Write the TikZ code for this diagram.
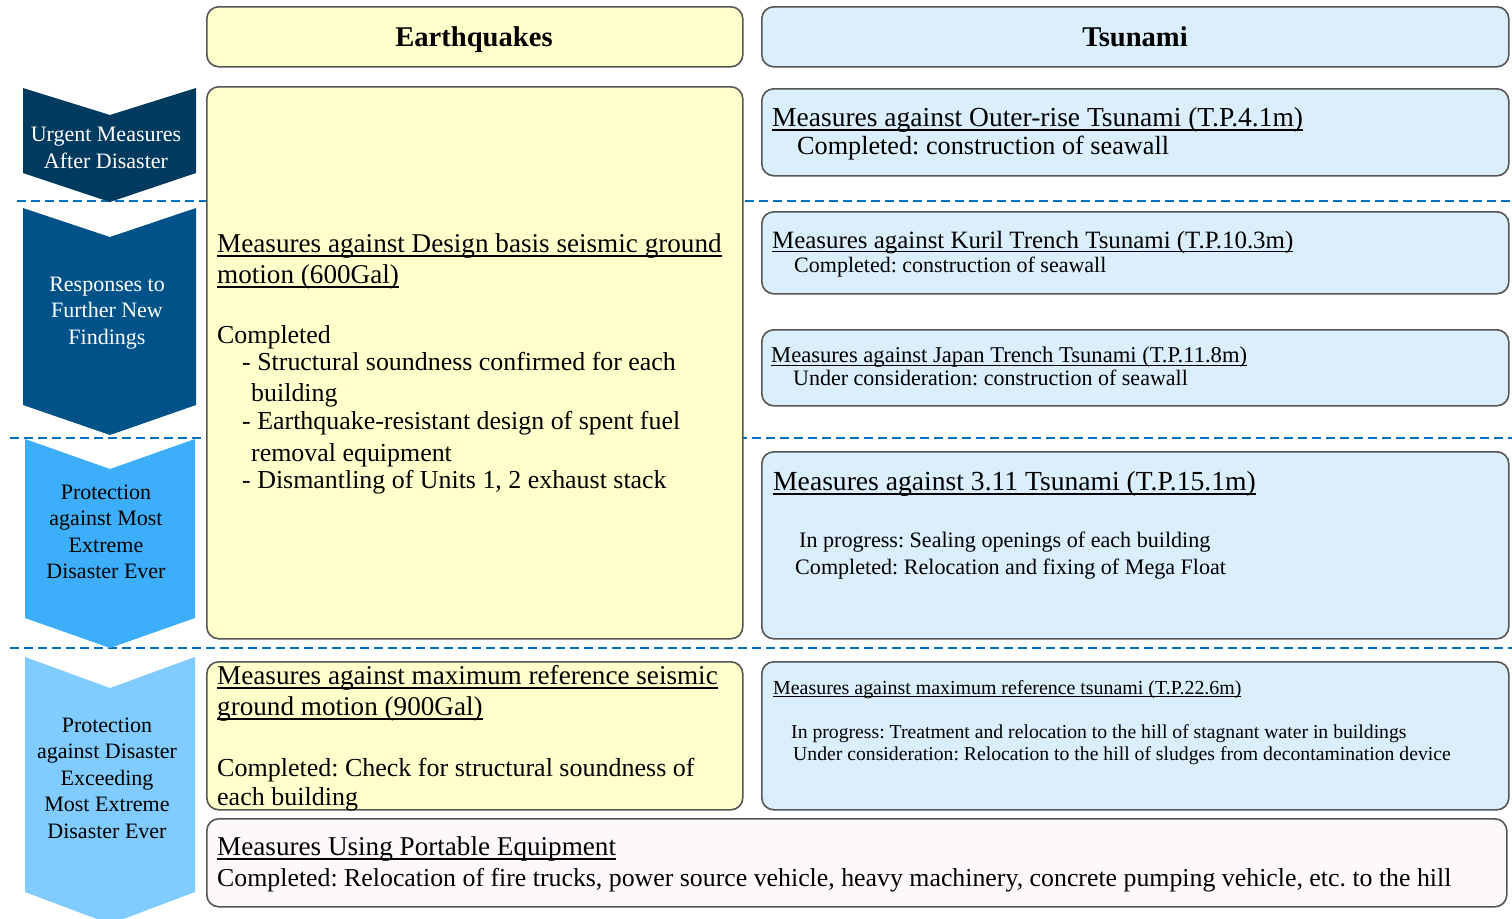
\documentclass[tikz,border=0pt]{standalone}
\usepackage{fontspec}
\setmainfont{Liberation Serif}
\definecolor{arrA}{RGB}{0,58,94}
\definecolor{arrB}{RGB}{0,82,137}
\definecolor{arrC}{RGB}{61,174,249}
\definecolor{arrD}{RGB}{128,203,255}
\definecolor{eqfill}{RGB}{255,255,204}
\definecolor{tsfill}{RGB}{218,238,252}
\definecolor{pofill}{RGB}{252,249,248}
\definecolor{edge}{RGB}{85,85,85}
\definecolor{dashc}{RGB}{0,112,192}
\newcommand\uln[1]{\setbox0=\hbox{#1}\leavevmode\rlap{\rule[-0.17em]{\wd0}{0.055em}}\box0}
\newcommand\fsz[1]{\fontsize{#1}{#1}\selectfont}
\tikzset{
  box/.style={draw=edge, line width=1.6pt, rounded corners=12pt, anchor=north west, inner sep=0pt},
  eqbox/.style={box, fill=eqfill},
  tsbox/.style={box, fill=tsfill},
  pobox/.style={box, fill=pofill},
  txt/.style={anchor=base west, inner sep=0pt},
  hdr/.style={inner sep=0pt, anchor=base, font=\fsz{28.6}\bfseries},
  arrtxt/.style={inner sep=0pt, align=center, font=\fontsize{22}{26.5}\selectfont},
  sep/.style={draw=dashc, line width=2.6pt, dash pattern=on 9pt off 5pt},
}
\begin{document}
\frenchspacing
\begin{tikzpicture}[x=1pt,y=-1pt]
\useasboundingbox (0,0) rectangle (1512,918);
% separators
\draw[sep] (17,201) -- (1512,201);
\draw[sep] (10,438) -- (1512,438);
\draw[sep] (10,648) -- (1512,648);
% left chevrons
\fill[arrA] (23,88) -- (110,115) -- (196,88) -- (196,173) -- (110,202) -- (23,173) -- cycle;
\node[arrtxt, text=white] (a1) at (106,148) {Urgent Measures\\After Disaster};
\fill[arrB] (23,208) -- (110,237) -- (196,208) -- (196,405) -- (110,435) -- (23,405) -- cycle;
\node[arrtxt, text=white] (a2) at (107,313) {Responses to\\Further New\\Findings};
\fill[arrC] (25,439) -- (110,469) -- (195,439) -- (195,618) -- (110,648) -- (25,618) -- cycle;
\node[arrtxt] (a3) at (106,532) {Protection\\against Most\\Extreme\\Disaster Ever};
\fill[arrD] (25,657) -- (110,688) -- (195,657) -- (195,892) -- (110,924) -- (25,892) -- cycle;
\node[arrtxt] (a4) at (107,778) {Protection\\against Disaster\\Exceeding\\Most Extreme\\Disaster Ever};
% headers
\node[eqbox, minimum width=536pt, minimum height=60pt] (heq) at (206,6) {};
\node[hdr] (heqt) at (474,46) {Earthquakes};
\node[tsbox, minimum width=747pt, minimum height=60pt] (hts) at (761,6) {};
\node[hdr] (htst) at (1135,46) {Tsunami};
% earthquake boxes
\node[eqbox, minimum width=536pt, minimum height=552pt] (eq1) at (206,86) {};
\node[eqbox, minimum width=536pt, minimum height=148pt] (eq2) at (206,661) {};
% tsunami boxes
\node[tsbox, minimum width=747pt, minimum height=87pt] (t1) at (761,88) {};
\node[tsbox, minimum width=747pt, minimum height=82pt] (t2) at (761,211) {};
\node[tsbox, minimum width=747pt, minimum height=76pt] (t3) at (761,329) {};
\node[tsbox, minimum width=747pt, minimum height=187pt] (t4) at (761,451) {};
\node[tsbox, minimum width=747pt, minimum height=148pt] (t5) at (761,661) {};
% portable
\node[pobox, minimum width=1300pt, minimum height=88pt] (po) at (206,818) {};
% texts
\begin{scope}[every node/.style={txt, font=\fsz{27.15}}]
\node (e1) at (217,252) {\uln{Measures against Design basis seismic ground}};
\node (e2) at (217,283) {\uln{motion (600Gal)}};
\node[font=\fsz{25.9}] (e3) at (217,343) {Completed};
\node[font=\fsz{25.9}] (e4) at (242,370) {- Structural soundness confirmed for each};
\node[font=\fsz{25.9}] (e5) at (251,401) {building};
\node[font=\fsz{25.9}] (e6) at (242,429) {- Earthquake-resistant design of spent fuel};
\node[font=\fsz{25.9}] (e7) at (251,461) {removal equipment};
\node[font=\fsz{25.9}] (e8) at (242,488) {- Dismantling of Units 1, 2 exhaust stack};
\node (f1) at (217,684) {\uln{Measures against maximum reference seismic}};
\node (f2) at (217,715) {\uln{ground motion (900Gal)}};
\node[font=\fsz{26}] (f3) at (217,776) {Completed: Check for structural soundness of};
\node[font=\fsz{26}] (f4) at (217,805) {each building};
\node (p1) at (217,855) {\uln{Measures Using Portable Equipment}};
\node[font=\fsz{25.83}] (p2) at (217,886) {Completed: Relocation of fire trucks, power source vehicle, heavy machinery, concrete pumping vehicle, etc. to the hill};
\node[font=\fsz{27.5}] (t1a) at (772,126) {\uln{Measures against Outer-rise Tsunami (T.P.4.1m)}};
\node[font=\fsz{26.2}] (t1b) at (797,154) {Completed: construction of seawall};
\node[font=\fsz{24.9}] (t2a) at (772,248) {\uln{Measures against Kuril Trench Tsunami (T.P.10.3m)}};
\node[font=\fsz{22}] (t2b) at (794,272) {Completed: construction of seawall};
\node[font=\fsz{22.6}] (t3a) at (771,362) {\uln{Measures against Japan Trench Tsunami (T.P.11.8m)}};
\node[font=\fsz{22}] (t3b) at (793,385) {Under consideration: construction of seawall};
\node[font=\fsz{27.6}] (t4a) at (773,490) {\uln{Measures against 3.11 Tsunami (T.P.15.1m)}};
\node[font=\fsz{22.1}] (t4b) at (799,547) {In progress: Sealing openings of each building};
\node[font=\fsz{22.1}] (t4c) at (795,574) {Completed: Relocation and fixing of Mega Float};
\node[font=\fsz{19.9}] (t5a) at (773,694) {\uln{Measures against maximum reference tsunami (T.P.22.6m)}};
\node[font=\fsz{19.7}] (t5b) at (791,738) {In progress: Treatment and relocation to the hill of stagnant water in buildings};
\node[font=\fsz{19.7}] (t5c) at (793,760) {Under consideration: Relocation to the hill of sludges from decontamination device};
\end{scope}
\end{tikzpicture}
\end{document}
